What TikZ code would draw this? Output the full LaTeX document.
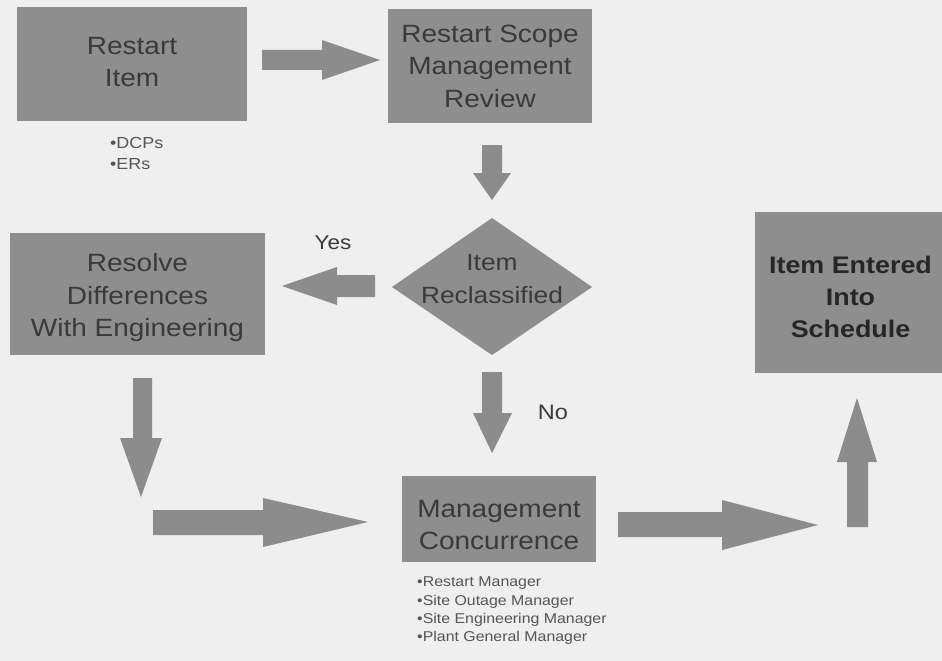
\documentclass[tikz,border=0pt]{standalone}
\usepackage{fontspec}
\setmainfont{Liberation Sans}[FakeStretch=1.12]
\definecolor{bg}{HTML}{EFEFEF}
\definecolor{boxgray}{HTML}{8E8E8E}
\definecolor{arrgray}{HTML}{8C8C8C}
\definecolor{txtgray}{HTML}{3A3A3A}
\definecolor{smallgray}{HTML}{555555}
\tikzset{
  procbox/.style={rectangle, fill=boxgray, draw=none, inner sep=0pt},
  boxtext/.style={text=txtgray, align=center, inner sep=0pt,
    font=\fontsize{25}{32.5}\selectfont},
  decshape/.style={fill=boxgray, draw=none},
  blockarrow/.style={fill=arrgray, draw=none},
  note/.style={text=smallgray, align=left, anchor=north west, inner sep=0pt},
  lbl/.style={text=txtgray, inner sep=0pt},
}
\begin{document}
\begin{tikzpicture}[x=1pt, y=-1pt]
  \fill[bg] (0,0) rectangle (942,661);
  \useasboundingbox (0,0) rectangle (942,661);

  % boxes
  \node[procbox, minimum width=230pt, minimum height=114pt] (restart) at (132,64) {};
  \node[boxtext] (restartT) at ([yshift=2pt]restart.center) {Restart\\Item};
  \node[procbox, minimum width=204pt, minimum height=114pt] (scope) at (490,66) {};
  \node[boxtext] (scopeT) at (scope.center) {Restart Scope\\Management\\Review};
  \coordinate (dc) at (492,287);
  \fill[decshape] (392,287) -- (492,218) -- (592,287) -- (492,355) -- cycle;
  \node[boxtext, font=\fontsize{23.5}{33}\selectfont] (recl) at ([yshift=8pt]dc) {Item\\Reclassified};
  \node[procbox, minimum width=255pt, minimum height=122pt] (resolve) at (137.5,294) {};
  \node[boxtext] (resolveT) at ([yshift=-4pt]resolve.center) {Resolve\\Differences\\With Engineering};
  \node[procbox, minimum width=194pt, minimum height=86pt] (mgmt) at (499,519) {};
  \node[boxtext] (mgmtT) at ([yshift=-6pt]mgmt.center) {Management\\Concurrence};
  \node[procbox, minimum width=187pt, minimum height=161pt] (sched) at (848.5,292.5) {};
  \node[boxtext, text=black!85, font=\fontsize{24}{32}\selectfont\bfseries] (schedT)
    at ([xshift=2pt,yshift=-4pt]sched.center) {Item Entered\\Into\\Schedule};

  % notes
  \node[note, font=\fontsize{16}{21}\selectfont] (dcp) at (110,137) {•DCPs\\•ERs};
  \node[note, font=\fontsize{14.2}{18.3}\selectfont] (mgrs) at (417,577)
    {•Restart Manager\\•Site Outage Manager\\•Site Engineering Manager\\•Plant General Manager};

  % labels
  \node[lbl, font=\fontsize{20}{24}\selectfont] (yes) at (333,243) {Yes};
  \node[lbl, font=\fontsize{21}{24}\selectfont] (no) at (553,412) {No};

  % block arrows
  \fill[blockarrow] (262,50) -- (322,50) -- (322,40) -- (380,60) -- (322,80) -- (322,70) -- (262,70) -- cycle;
  \fill[blockarrow] (482,145) -- (502,145) -- (502,173) -- (511,173) -- (492,200) -- (473,173) -- (482,173) -- cycle;
  \fill[blockarrow] (375,275) -- (337,275) -- (337,267) -- (282,286) -- (337,305) -- (337,297) -- (375,297) -- cycle;
  \fill[blockarrow] (482,372) -- (502,372) -- (502,413) -- (512,413) -- (492,453) -- (473,413) -- (482,413) -- cycle;
  \fill[blockarrow] (133,378) -- (152,378) -- (152,438) -- (162,438) -- (141,497) -- (120,438) -- (133,438) -- cycle;
  \fill[blockarrow] (153,510) -- (263,510) -- (263,498) -- (368,522) -- (263,547) -- (263,535) -- (153,535) -- cycle;
  \fill[blockarrow] (618,512) -- (722,512) -- (722,500) -- (818,525) -- (722,550) -- (722,537) -- (618,537) -- cycle;
  \fill[blockarrow] (847,527) -- (868,527) -- (868,462) -- (877,462) -- (857,398) -- (837,462) -- (847,462) -- cycle;
\end{tikzpicture}
\end{document}
